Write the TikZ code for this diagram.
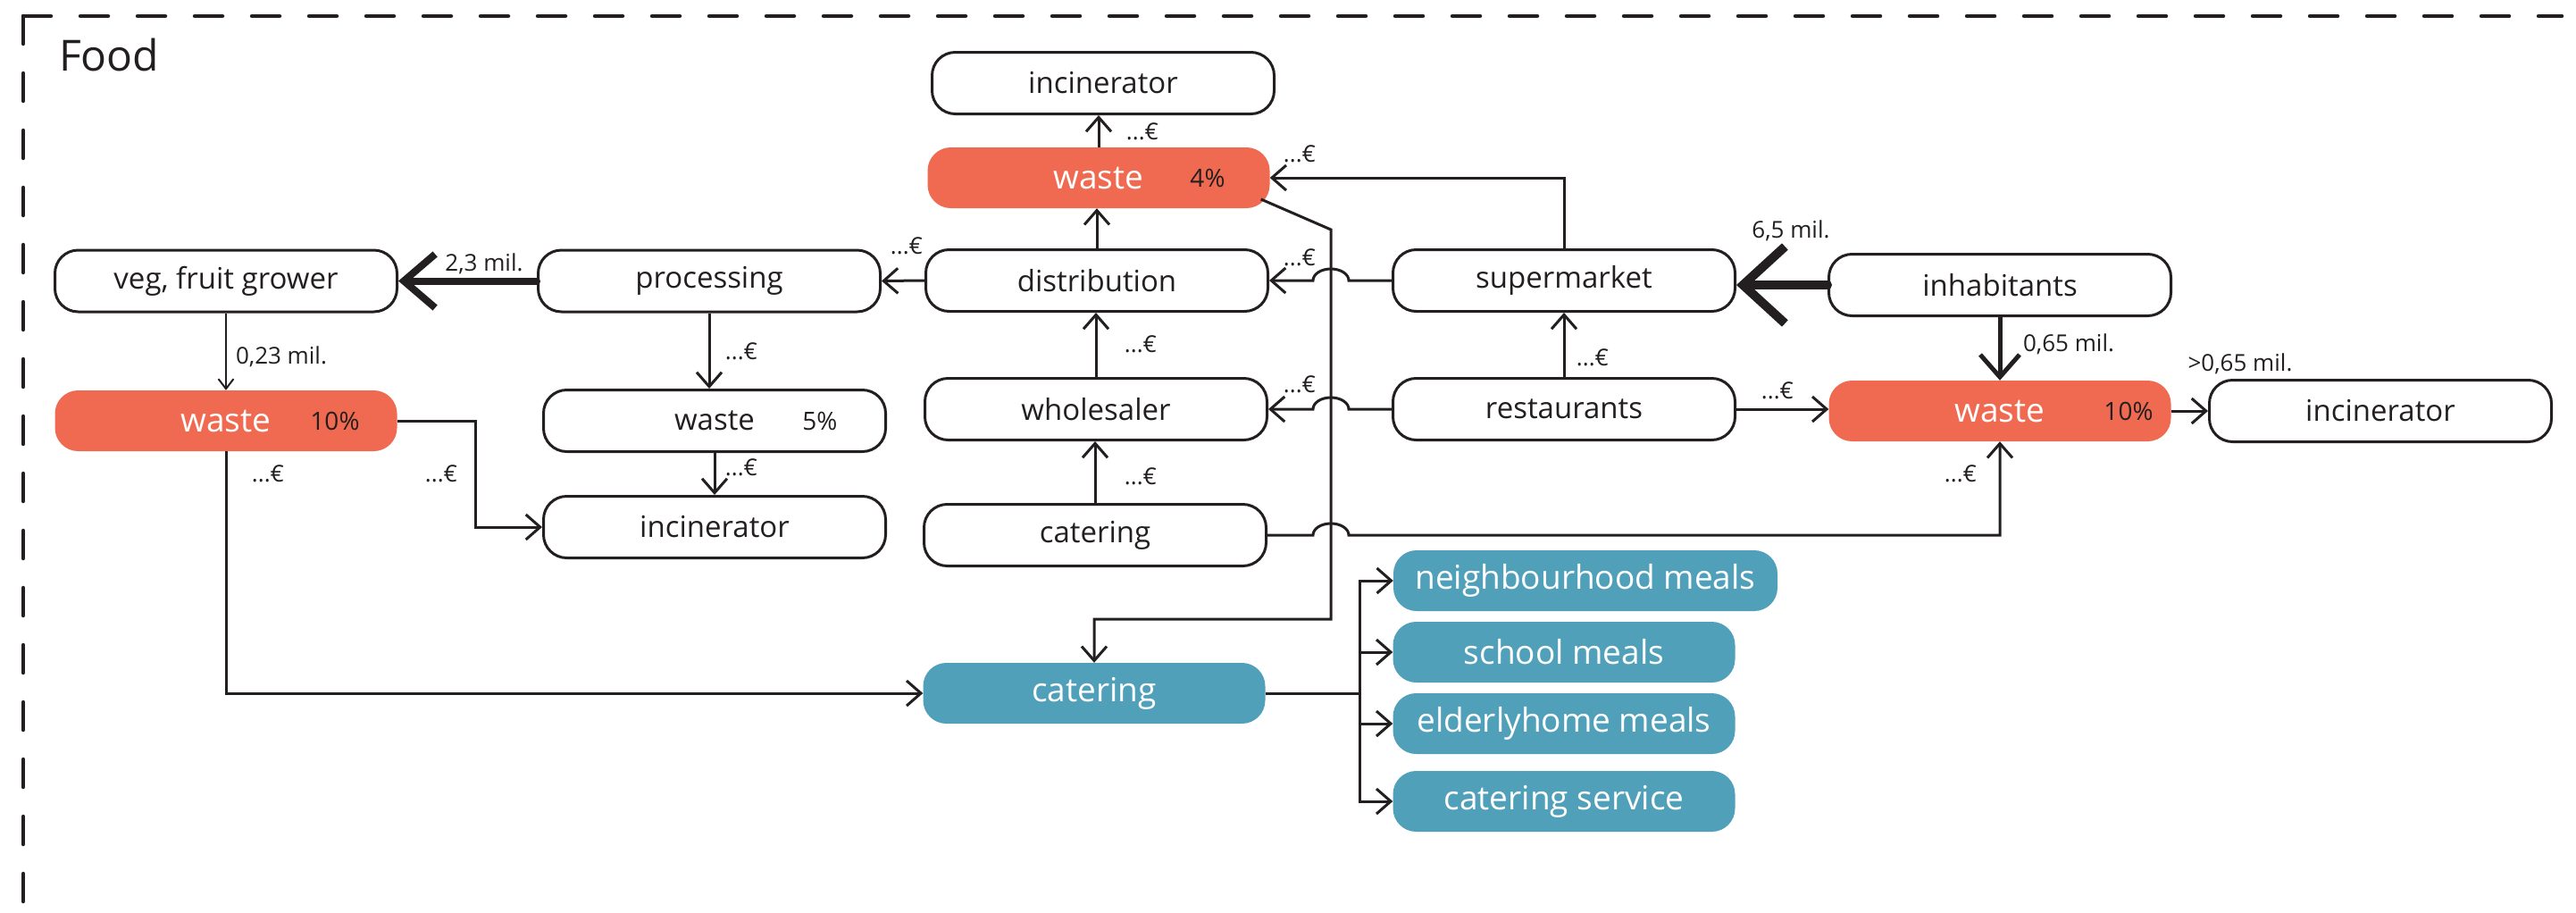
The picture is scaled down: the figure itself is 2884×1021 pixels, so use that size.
\documentclass[tikz,border=0pt]{standalone}
\usepackage{fontspec}
\setmainfont{Open Sans}
\usetikzlibrary{arrows.meta,calc}
\definecolor{ink}{HTML}{231F20}
\definecolor{wastered}{HTML}{EF6A50}
\definecolor{mealblue}{HTML}{50A0BA}

\begin{document}
\begin{tikzpicture}[x=1pt,y=-1pt,
  actor/.style={draw=ink, line width=3pt, fill=white, rounded corners=26pt,
    minimum width=383pt, minimum height=69pt, inner sep=0pt,
    font=\fontsize{33}{40}\selectfont, text=ink},
  wastebox/.style={fill=wastered, rounded corners=26pt, minimum width=383pt,
    minimum height=68pt, inner sep=0pt, font=\fontsize{37}{44}\selectfont, text=white},
  mealbox/.style={fill=mealblue, rounded corners=26pt, minimum width=383pt,
    minimum height=68pt, inner sep=0pt, font=\fontsize{37}{44}\selectfont, text=white},
  share/.style={font=\fontsize{28}{32}\selectfont, text=ink, inner sep=0pt},
  flowlabel/.style={font=\fontsize{26}{30}\selectfont, text=ink, inner sep=0pt},
  conn/.style={line width=3pt, draw=ink},
  arr/.style={-{Straight Barb[length=16pt,width=28pt]}},
  framedash/.style={draw=ink, line width=4.5pt, line cap=round, dash pattern=on 31pt off 33pt},
  hop/.style={x radius=20pt, y radius=13pt}
]
\useasboundingbox (0,0) rectangle (2884,1021);

% dashed frame (top and left edges only)
\draw[framedash] (26,18) -- (2868,18);
\draw[framedash] (26,18) -- (26,1021);
\node[anchor=base west, inner sep=0pt, text=ink, font=\fontsize{48}{56}\selectfont] (title) at (66,79) {Food};

% production chain
\node[actor] (veg)  at (253,314.5) {veg, fruit grower};
\node[actor] (proc) at (794,314.5) {processing};
\node[wastebox] (w10) at (253,471) {waste};
\node[share] (p10) at ($(w10.center)+(122,0)$) {10\%};
\node[actor] (w5) at (800,471) {waste};
\node[share] (p5) at ($(w5.center)+(118,0)$) {5\%};
\node[actor] (inc1) at (800,590) {incinerator};

% trade chain
\node[actor] (inc4) at (1235,93) {incinerator};
\node[wastebox] (w4) at (1230,199) {waste};
\node[share] (p4) at ($(w4.center)+(122,0)$) {4\%};
\node[actor] (dist)  at (1228,314) {distribution};
\node[actor] (whole) at (1227,458) {wholesaler};
\node[actor] (cat1)  at (1226,599) {catering};

% consumers
\node[actor] (sm)   at (1751,314) {supermarket};
\node[actor] (rest) at (1751,458) {restaurants};
\node[actor] (inh)  at (2239,319) {inhabitants};
\node[wastebox] (wR) at (2239,460) {waste};
\node[share] (pR) at ($(wR.center)+(144,0)$) {10\%};
\node[actor] (incR) at (2665,460) {incinerator};

% catering outlets
\node[mealbox] (cat2) at (1225,776) {catering};
\node[mealbox, minimum width=430pt] (nm) at (1775,650) {neighbourhood meals};
\node[mealbox] (sch) at (1751,730) {school meals};
\node[mealbox] (eld) at (1751,810) {elderlyhome meals};
\node[mealbox] (cs)  at (1751,897) {catering service};

% helper points
\coordinate (bend) at (1490,257);
\coordinate (drop) at (1490,693);
\coordinate (br)   at (1522,780);

% thick money flows
\draw[ink, line width=8pt, line cap=round, -{Straight Barb[length=35pt,width=60pt]}]
  (proc.west) -- (veg.east);
\node[flowlabel] (l23) at (542,295) {2,3 mil.};
\draw[ink, line width=10pt, line cap=round, -{Straight Barb[length=47pt,width=86pt]}]
  (inh.west) -- (inh.west -| sm.east);
\node[flowlabel] (l65) at (2005,258) {6,5 mil.};
\draw[ink, line width=5pt, -{Straight Barb[length=25pt,width=44pt]}]
  (inh.south) -- (wR.north);
\node[flowlabel] (l065) at (2316,385) {0,65 mil.};

% left part
\draw[ink, line width=2pt, -{Straight Barb[length=11pt,width=17pt]}] (veg.south) -- (w10.north);
\node[flowlabel] (l023) at (315,399) {0,23 mil.};
\draw[conn, arr] (w10.east) -- ++(88,0) |- (inc1.west);
\node[flowlabel] (e1) at (494,530) {...€};
\draw[conn, arr] (w10.south) |- (cat2.west);
\node[flowlabel] (e2) at (300,530) {...€};
\draw[conn, arr] (proc.south) -- (proc.south |- w5.north);
\node[flowlabel] (e3) at (830,393) {...€};
\draw[conn, arr] (w5.south) -- (inc1.north);
\node[flowlabel] (e4) at (830,523) {...€};

% middle part
\draw[conn, arr] (dist.west) -- (proc.east);
\node[flowlabel] (e5) at (1015,275) {...€};
\draw[conn, arr] (dist.north) -- (dist.north |- w4.south);
\draw[conn, arr] (w4.north) -- (w4.north |- inc4.south);
\node[flowlabel] (e6) at (1279,147) {...€};
\draw[conn, arr] (whole.north) -- (whole.north |- dist.south);
\node[flowlabel] (e7) at (1277,385) {...€};
\draw[conn, arr] (cat1.north) -- (cat1.north |- whole.south);
\node[flowlabel] (e8) at (1277,533) {...€};

% supermarket waste and the leftover route to catering
\draw[conn, arr] (sm.north) |- (w4.east);
\node[flowlabel] (e9) at (1455,172) {...€};
\draw[conn, arr] ($(w4.east)+(-10,24)$) -- (bend) -- (drop) -| (cat2.north);

% flows that hop over the vertical line
\draw[conn, arr] (sm.west) -- ($(sm.west -| bend)+(20,0)$)
  arc[start angle=0, end angle=180, hop] -- (dist.east);
\node[flowlabel] (e10) at (1455,288) {...€};
\draw[conn, arr] (rest.west) -- ($(rest.west -| bend)+(20,0)$)
  arc[start angle=0, end angle=180, hop] -- (whole.east);
\node[flowlabel] (e11) at (1455,430) {...€};
\draw[conn, arr] (cat1.east) -- ($(cat1.east -| bend)+(-20,0)$)
  arc[start angle=180, end angle=0, hop] -| (wR.south);
\node[flowlabel] (e12) at (2195,530) {...€};

% right part
\draw[conn, arr] (rest.north) -- (rest.north |- sm.south);
\node[flowlabel] (e13) at (1783,400) {...€};
\draw[conn, arr] (rest.east) -- (rest.east -| wR.west);
\node[flowlabel] (e14) at (1990,437) {...€};
\draw[conn, arr] (wR.east) -- (incR.west);
\node[flowlabel] (l065b) at (2508,407) {>0,65 mil.};

% catering branches
\draw[conn] (cat2.east) -- (cat2.east -| br);
\draw[conn, arr] (cat2.east -| br) |- (nm.west);
\draw[conn, arr] (cat2.east -| br) |- (sch.west);
\draw[conn, arr] (cat2.east -| br) |- (eld.west);
\draw[conn, arr] (cat2.east -| br) |- (cs.west);
\end{tikzpicture}
\end{document}
